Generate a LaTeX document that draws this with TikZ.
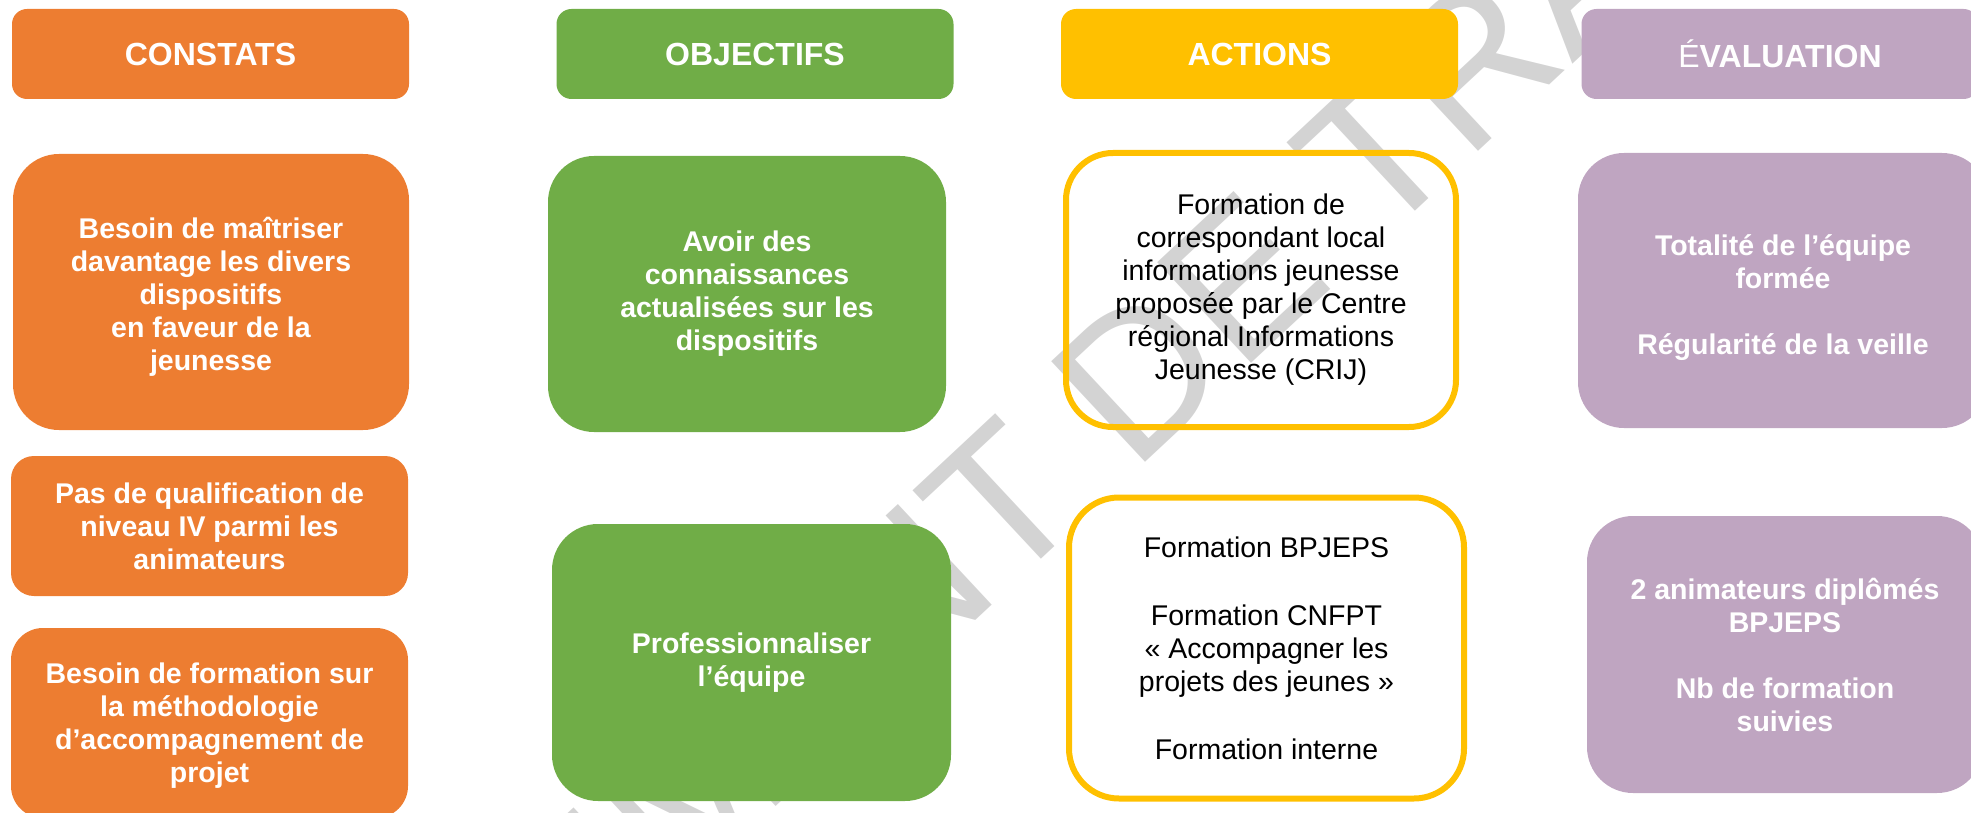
\documentclass[tikz,border=0pt]{standalone}
\usepackage{fontspec}
\setmainfont{Liberation Sans}
\definecolor{corange}{HTML}{ED7D31}
\definecolor{cgreen}{HTML}{70AD47}
\definecolor{cgold}{HTML}{FFC000}
\definecolor{clilac}{HTML}{BFA5C1}
\definecolor{wmgray}{HTML}{D3D3D3}
\newcommand\hdrfont{\fontsize{32}{38}\selectfont\bfseries}
\newcommand\bodyfont{\fontsize{28.5}{33}\selectfont}
\tikzset{
  hdr/.style={fill=#1, text=white, font=\hdrfont, minimum height=90pt,
    minimum width=397pt, rounded corners=15pt, inner sep=0pt, outer sep=0pt},
  fbox/.style={fill=#1, inner sep=0pt, outer sep=0pt},
  abox/.style={draw=cgold, line width=6pt, inner sep=0pt, outer sep=0pt},
  txtw/.style={text=white, font=\bodyfont\bfseries, align=center, inner sep=0pt},
  txtk/.style={text=black, font=\bodyfont, align=center, inner sep=0pt},
  wm/.style={text=wmgray, font=\fontsize{200}{200}\selectfont, inner sep=0pt}
}
\begin{document}
\begin{tikzpicture}[x=1pt,y=-1pt]
\useasboundingbox (0,0) rectangle (1971,813);
\clip (0,0) rectangle (1971,813);
% watermark
\node[wm, rotate=43] (wmk) at (1060,448) {DOCUMENT DE TRAVAIL};
% headers
\node[hdr=corange] (hC) at (210.5,54) {CONSTATS};
\node[hdr=cgreen] (hO) at (755,54) {OBJECTIFS};
\node[hdr=cgold] (hA) at (1259.5,54) {ACTIONS};
\node[hdr=clilac] (hE) at (1780,54) {{\mdseries É}VALUATION};
% constats
\node[fbox=corange, minimum width=396pt, minimum height=276pt, rounded corners=46pt] (o1) at (211,292) {};
\node[txtw] (o1t) at ([yshift=-5pt]o1.center)
  {Besoin de maîtriser\\davantage les divers\\dispositifs\\en faveur de la\\jeunesse};
\node[fbox=corange, minimum width=397pt, minimum height=140pt, rounded corners=23pt] (o2) at (209.5,526) {};
\node[txtw] (o2t) at (o2.center)
  {Pas de qualification de\\niveau IV parmi les\\animateurs};
\node[fbox=corange, minimum width=397pt, minimum height=190pt, rounded corners=32pt] (o3) at (209.5,723) {};
\node[txtw] (o3t) at ([yshift=-3pt]o3.center)
  {Besoin de formation sur\\la méthodologie\\d’accompagnement de\\projet};
% objectifs
\node[fbox=cgreen, minimum width=398pt, minimum height=276pt, rounded corners=46pt] (g1) at (747,294) {};
\node[txtw] (g1t) at (g1.center)
  {Avoir des\\connaissances\\actualisées sur les\\dispositifs};
\node[fbox=cgreen, minimum width=399pt, minimum height=277pt, rounded corners=46pt] (g2) at (751.5,662.5) {};
\node[txtw] (g2t) at (g2.center)
  {Professionnaliser\\l’équipe};
% actions
\node[abox, minimum width=390pt, minimum height=274pt, rounded corners=47pt] (a1) at (1261,290) {};
\node[txtk] (a1t) at (a1.center)
  {Formation de\\correspondant local\\informations jeunesse\\proposée par le Centre\\régional Informations\\Jeunesse (CRIJ)};
\node[abox, minimum width=395pt, minimum height=301pt, rounded corners=50pt] (a2) at (1266.5,648) {};
\node[txtk] (a2t) at (a2.center)
  {Formation BPJEPS\\[1pt]~\\[1pt]Formation CNFPT\\« Accompagner les\\projets des jeunes »\\[1pt]~\\[1pt]Formation interne};
% evaluation
\node[fbox=clilac, minimum width=410pt, minimum height=275pt, rounded corners=46pt] (e1) at (1783,290.5) {};
\node[txtw] (e1t) at ([yshift=-7pt]e1.center)
  {Totalité de l’équipe\\formée\\~\\Régularité de la veille};
\node[fbox=clilac, minimum width=396pt, minimum height=277pt, rounded corners=46pt] (e2) at (1785,654.5) {};
\node[txtw] (e2t) at (e2.center)
  {2 animateurs diplômés\\BPJEPS\\~\\Nb de formation\\suivies};
\end{tikzpicture}
\end{document}
